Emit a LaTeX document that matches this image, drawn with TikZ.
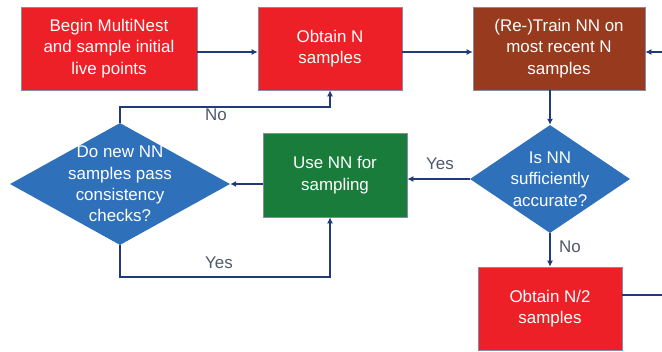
\documentclass[tikz,border=0pt]{standalone}
\usepackage{fontspec}
\setmainfont{Liberation Sans}
\usetikzlibrary{shapes.geometric,arrows.meta}
\definecolor{boxred}{RGB}{236,32,38}
\definecolor{boxbrown}{RGB}{152,58,30}
\definecolor{boxgreen}{RGB}{26,124,58}
\definecolor{diablue}{RGB}{46,112,186}
\definecolor{arrowc}{RGB}{34,58,120}
\definecolor{labelc}{RGB}{80,88,108}
\definecolor{edgec}{RGB}{130,140,165}
\tikzset{
  boxst/.style={draw=edgec, line width=0.6bp, inner sep=0pt, text=white, align=center,
    font=\fontsize{17}{21.5}\selectfont},
  diast/.style={shape=diamond, fill=diablue, draw=none, inner sep=0pt},
  diatext/.style={text=white, align=center, font=\fontsize{17}{21.5}\selectfont},
  arr/.style={draw=arrowc, line width=1.4bp, -{Latex[length=6bp,width=6bp]}},
  plain/.style={draw=arrowc, line width=1.4bp},
  lab/.style={text=labelc, font=\fontsize{17}{20}\selectfont, inner sep=0pt}
}
\begin{document}
\begin{tikzpicture}[x=1bp,y=-1bp]
\useasboundingbox (0,0) rectangle (662,351);
% boxes
\node[boxst, fill=boxred, minimum width=176bp, minimum height=83bp] (b) at (109,48.5) {Begin MultiNest\\and sample initial\\live points};
\node[boxst, fill=boxred, minimum width=144bp, minimum height=83bp] (o) at (330,48.5) {Obtain N\\samples};
\node[boxst, fill=boxbrown, minimum width=172bp, minimum height=83bp] (t) at (559,48.5) {(Re-)Train NN on\\most recent N\\samples};
\node[boxst, fill=boxgreen, minimum width=144bp, minimum height=84bp] (u) at (335,175) {Use NN for\\sampling};
\node[boxst, fill=boxred, minimum width=144bp, minimum height=83bp] (h) at (550,308.5) {Obtain N/2\\samples};
% diamonds
\node[diast, minimum width=160bp, minimum height=108bp] (d1) at (550,179) {};
\node[diatext] at (d1) {Is NN\\sufficiently\\accurate?};
\node[diast, minimum width=220bp, minimum height=122bp] (d2) at (120,184) {};
\node[diatext] at (d2) {Do new NN\\samples pass\\consistency\\checks?};
% connectors
\draw[arr] (b.east |- 0,52) -- (o.west |- 0,52);
\draw[arr] (o.east |- 0,52) -- (t.west |- 0,52);
\coordinate (in1) at (662,52);
\draw[arr] (in1) -- (in1 -| t.east);
\draw[arr] (t.south -| d1.north) -- (d1.north);
\draw[arr] (d1.west) -- (d1.west -| u.east);
\draw[arr] (u.west |- d2.east) -- (d2.east);
\draw[arr] (d1.south) -- (h.north -| d1.south);
\coordinate (out1) at (662,295);
\draw[plain] (h.east |- out1) -- (out1);
\draw[arr] (d2.north) -- (120,107) -- (330,107) -- (330,0 |- o.south);
\draw[arr] (d2.south) -- (120,277) -- (330,277) -- (330,0 |- u.south);
% labels
\node[lab] at (216,115) {No};
\node[lab] at (440,164) {Yes};
\node[lab] at (219,263) {Yes};
\node[lab] at (570,247) {No};
\end{tikzpicture}
\end{document}
